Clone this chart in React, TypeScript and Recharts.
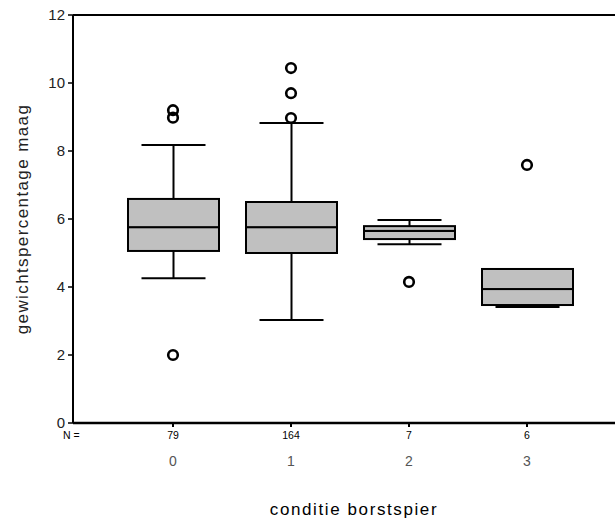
import { ComposedChart, Bar, Scatter, XAxis, YAxis, ReferenceLine, Label } from 'recharts';

const categories = ['0', '1', '2', '3'];
const counts = [79, 164, 7, 6];
const whiskerLow = [4.26, 3.03, 5.26, 3.41];
const q1 = [5.06, 5.0, 5.41, 3.47];
const median = [5.76, 5.76, 5.65, 3.94];
const q3 = [6.59, 6.5, 5.79, 4.53];
const whiskerHigh = [8.18, 8.82, 5.97, 4.53];
const outliers: number[][] = [[9.2, 8.98, 2.0], [10.44, 9.7, 8.97], [4.15], [7.59]];
const yTicks = [0, 2, 4, 6, 8, 10, 12];

const FONT = '"Liberation Sans", Arial, sans-serif';

const data = categories.map((cat, i) => ({
  cat,
  n: counts[i],
  base: whiskerLow[i],
  lowWhisker: q1[i] - whiskerLow[i],
  lowBox: median[i] - q1[i],
  highBox: q3[i] - median[i],
  highWhisker: whiskerHigh[i] - q3[i],
  o1: outliers[i][0] ?? null,
  o2: outliers[i][1] ?? null,
  o3: outliers[i][2] ?? null,
}));

const CAP = 64;

function LowWhisker(p: any) {
  const cx = p.x + p.width / 2;
  const bottom = p.y + p.height;
  return (
    <g stroke="#000" strokeWidth={2}>
      <line x1={cx} x2={cx} y1={p.y} y2={bottom} />
      <line x1={cx - CAP / 2} x2={cx + CAP / 2} y1={bottom} y2={bottom} />
    </g>
  );
}

function HighWhisker(p: any) {
  const cx = p.x + p.width / 2;
  return (
    <g stroke="#000" strokeWidth={2}>
      <line x1={cx} x2={cx} y1={p.y} y2={p.y + p.height} />
      <line x1={cx - CAP / 2} x2={cx + CAP / 2} y1={p.y} y2={p.y} />
    </g>
  );
}

function BoxPart(p: any) {
  return <rect x={p.x} y={p.y} width={p.width} height={p.height} fill="#c0c0c0" stroke="#000" strokeWidth={2} />;
}

const outlierShape = (key: string) => (p: any) => {
  if (p.payload == null || p.payload[key] == null || !Number.isFinite(p.cy)) return <g />;
  return <circle cx={p.cx} cy={p.cy} r={4.8} fill="none" stroke="#000" strokeWidth={2.6} />;
};

function CatTick(p: any) {
  const { x, y, payload, index } = p;
  return (
    <g fontFamily={FONT}>
      {index === 0 && (
        <text x={x - 110} y={y + 12} fontSize={10.5} fill="#000">N =</text>
      )}
      <text x={x} y={y + 12} fontSize={10.5} fill="#000" textAnchor="middle">{counts[index]}</text>
      <text x={x} y={y + 39} fontSize={14} fill="#555" textAnchor="middle">{payload.value}</text>
    </g>
  );
}

export default function App() {
  return (
    <div style={{ position: 'absolute', left: 0, top: 0, background: '#fff' }}>
      <ComposedChart width={615} height={519} data={data} margin={{ top: 15, right: 0, left: 0, bottom: 0 }} barSize={91}>
        <XAxis
          dataKey="cat"
          height={96}
          padding={{ left: 41, right: 29 }}
          axisLine={{ stroke: '#000', strokeWidth: 2.5 }}
          tickLine={{ stroke: '#000', strokeWidth: 2 }}
          tickSize={4}
          tickMargin={0}
          tick={<CatTick />}
          interval={0}
        >
          <Label value="conditie borstspier" position="insideBottom" offset={4} dx={10} style={{ fontFamily: FONT, fontSize: 17, letterSpacing: 1.6, fill: '#000' }} />
        </XAxis>
        <YAxis
          domain={[0, 12]}
          ticks={yTicks}
          width={73}
          axisLine={{ stroke: '#000', strokeWidth: 2 }}
          tickLine={{ stroke: '#000', strokeWidth: 1.5 }}
          tickSize={5}
          tickMargin={3}
          tick={{ fontFamily: FONT, fontSize: 15, fill: '#222' }}
          allowDataOverflow
        >
          <Label value="gewichtspercentage maag" angle={-90} position="insideLeft" offset={22} style={{ fontFamily: FONT, fontSize: 17, letterSpacing: 1.4, fill: '#222', textAnchor: 'middle' }} />
        </YAxis>
        <ReferenceLine y={12} stroke="#000" strokeWidth={2} />
        <Bar dataKey="base" stackId="b" fill="none" isAnimationActive={false} />
        <Bar dataKey="lowWhisker" stackId="b" shape={<LowWhisker />} isAnimationActive={false} />
        <Bar dataKey="lowBox" stackId="b" shape={<BoxPart />} isAnimationActive={false} />
        <Bar dataKey="highBox" stackId="b" shape={<BoxPart />} isAnimationActive={false} />
        <Bar dataKey="highWhisker" stackId="b" shape={<HighWhisker />} isAnimationActive={false} />
        <Scatter dataKey="o1" shape={outlierShape('o1')} isAnimationActive={false} />
        <Scatter dataKey="o2" shape={outlierShape('o2')} isAnimationActive={false} />
        <Scatter dataKey="o3" shape={outlierShape('o3')} isAnimationActive={false} />
      </ComposedChart>
    </div>
  );
}
